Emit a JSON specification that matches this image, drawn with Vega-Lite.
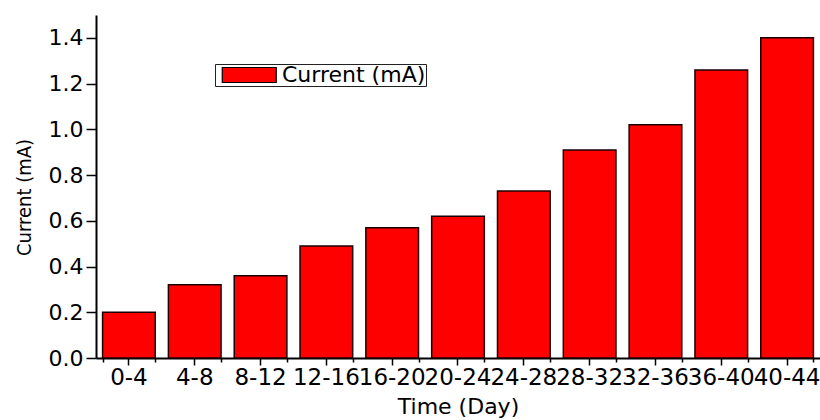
{
  "$schema": "https://vega.github.io/schema/vega-lite/v6.json",
  "width": 724,
  "height": 343,
  "autosize": {"type": "none"},
  "padding": {"left": 96, "top": 15, "right": 0, "bottom": 62},
  "background": "white",
  "data": {
    "values": [
      {"day": "0-4", "current": 0.2},
      {"day": "4-8", "current": 0.32},
      {"day": "8-12", "current": 0.36},
      {"day": "12-16", "current": 0.49},
      {"day": "16-20", "current": 0.57},
      {"day": "20-24", "current": 0.62},
      {"day": "24-28", "current": 0.73},
      {"day": "28-32", "current": 0.91},
      {"day": "32-36", "current": 1.02},
      {"day": "36-40", "current": 1.26},
      {"day": "40-44", "current": 1.4}
    ]
  },
  "layer": [
    {
      "mark": {"type": "bar", "fill": "#ff0000", "stroke": "#1a0000", "strokeWidth": 1.5},
      "encoding": {
        "x": {
          "field": "day", "type": "ordinal", "sort": null,
          "scale": {"paddingInner": 0.2, "paddingOuter": 0.1},
          "axis": {
            "orient": "bottom",
            "title": "Time (Day)", "labelAngle": 0, "labelOverlap": false,
            "tickSize": 7, "tickWidth": 1.5, "tickColor": "black",
            "domainColor": "black", "domainWidth": 2,
            "labelFont": "DejaVu Sans", "labelFontSize": 23, "labelColor": "black", "labelPadding": 1,
            "titleFont": "DejaVu Sans", "titleFontSize": 22, "titleFontWeight": "normal", "titleColor": "black", "titlePadding": 7
          }
        },
        "y": {
          "field": "current", "type": "quantitative",
          "scale": {"domain": [0, 1.5], "nice": false},
          "axis": {
            "title": "Current (mA)",
            "values": [0, 0.1, 0.2, 0.3, 0.4, 0.5, 0.6, 0.7, 0.8, 0.9, 1.0, 1.1, 1.2, 1.3, 1.4, 1.5],
            "labelExpr": "round(datum.value * 10) % 2 == 0 ? format(datum.value, '.1f') : ''",
            "tickSize": {"condition": {"test": "round(datum.value * 10) % 2 == 1", "value": 6}, "value": 10},
            "tickWidth": 1.5, "tickColor": "black", "grid": false,
            "domainColor": "black", "domainWidth": 2,
            "labelFont": "DejaVu Sans", "labelFontSize": 22, "labelColor": "black", "labelPadding": 3,
            "titleFont": "DejaVu Sans Condensed", "titleY": 182,
            "titleFontSize": 20, "titleFontWeight": "normal", "titleColor": "black", "titlePadding": 14
          }
        },
        "color": {
          "datum": "Current (mA)", "type": "nominal",
          "scale": {"range": ["#ff0000"]},
          "legend": {
            "title": null, "orient": "none", "legendX": 119, "legendY": 49,
            "symbolType": "M-0.5,-1H6.7V1H-0.5Z", "symbolSize": 225,
            "symbolStrokeColor": "black", "symbolStrokeWidth": 1.2, "symbolOpacity": 1,
            "labelFont": "DejaVu Sans", "labelFontSize": 22, "labelColor": "black",
            "labelOffset": 45, "strokeColor": "#222", "padding": 0, "fillColor": "white"
          }
        }
      }
    },
    {
      "mark": {"type": "bar", "opacity": 0},
      "encoding": {
        "x": {
          "field": "day", "type": "ordinal", "sort": null,
          "axis": {
            "orient": "bottom",
            "title": null, "labels": false, "domain": false, "tickBand": "extent",
            "tickSize": 4, "tickWidth": 1.5, "tickColor": "black"
          }
        },
        "y": {"field": "current", "type": "quantitative"}
      }
    }
  ],
  "resolve": {"axis": {"x": "independent"}},
  "config": {"view": {"stroke": null}}
}
